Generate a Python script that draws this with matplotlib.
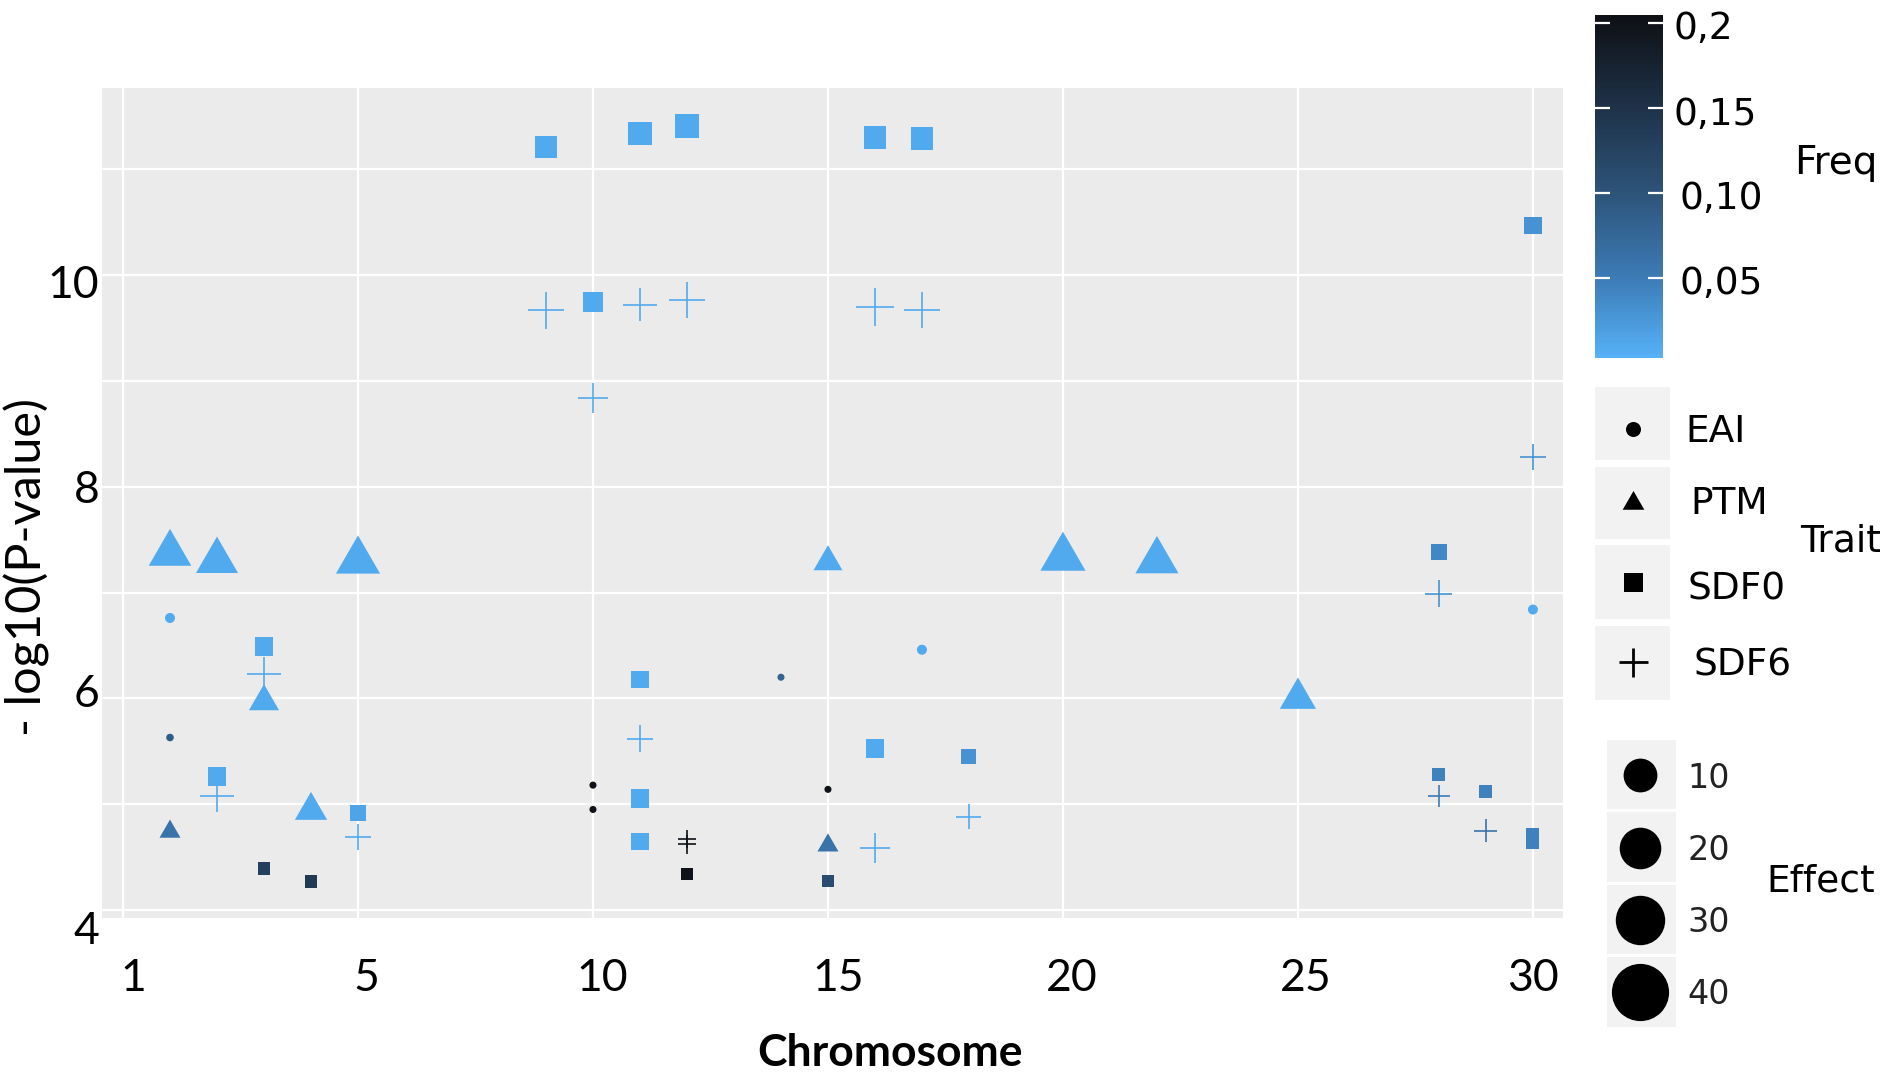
import numpy as np
import matplotlib
matplotlib.use("Agg")
import matplotlib.pyplot as plt
from matplotlib.colors import LinearSegmentedColormap, Normalize
from matplotlib.patches import Rectangle
from matplotlib.transforms import ScaledTranslation
import matplotlib.cm as cm

# ---------------- data ----------------
eai_chr = [1, 1, 10, 10, 14, 15, 17, 30]
eai_logp = [6.76, 5.63, 5.18, 4.95, 6.20, 5.14, 6.46, 6.84]
eai_effect = [4, 2.3, 2, 2, 2, 2, 4, 4]
eai_freq = [0.01, 0.09, 0.2, 0.2, 0.08, 0.2, 0.01, 0.01]

ptm_chr = [1, 2, 5, 3, 4, 1, 15, 15, 20, 22, 25]
ptm_logp = [7.37, 7.30, 7.30, 5.97, 4.94, 4.74, 7.29, 4.61, 7.33, 7.30, 6.00]
ptm_effect = [40, 39, 43, 20, 23, 9.7, 18.5, 9.7, 45, 41, 29]
ptm_freq = [0.01, 0.01, 0.01, 0.01, 0.01, 0.06, 0.01, 0.06, 0.01, 0.01, 0.01]

sdf0_chr = [9, 11, 12, 16, 17, 10, 30, 3, 2, 5, 3, 4, 11, 11, 11, 12, 15, 16, 18, 28, 28, 29, 30, 30]
sdf0_logp = [11.21, 11.34, 11.41, 11.30, 11.29, 9.75, 10.47, 6.49, 5.26, 4.92, 4.39, 4.27,
             6.18, 5.05, 4.65, 4.34, 4.27, 5.53, 5.45, 7.38, 5.28, 5.12, 4.71, 4.64]
sdf0_effect = [25, 29, 30, 26, 26, 20, 15, 18, 18, 13, 8, 8.5,
               15, 18, 15, 8.5, 7.5, 18, 11.5, 13, 8.5, 8.5, 8.5, 8.5]
sdf0_freq = [0.01, 0.01, 0.01, 0.01, 0.01, 0.01, 0.03, 0.01, 0.01, 0.015, 0.13, 0.14,
             0.01, 0.01, 0.01, 0.2, 0.11, 0.01, 0.03, 0.04, 0.045, 0.045, 0.045, 0.045]

sdf6_chr = [9, 10, 11, 12, 16, 17, 30, 28, 3, 2, 5, 11, 12, 12, 16, 18, 28, 29]
sdf6_logp = [9.67, 8.84, 9.72, 9.77, 9.70, 9.67, 8.28, 6.99, 6.23, 5.08, 4.69, 5.62,
             4.67, 4.62, 4.59, 4.88, 5.08, 4.75]
sdf6_effect = [27, 17, 22, 26, 29, 26, 13.5, 14.5, 22, 22, 13.5, 14.5, 7, 7, 18, 12.5, 10, 10.5]
sdf6_freq = [0.01, 0.01, 0.01, 0.01, 0.01, 0.01, 0.03, 0.03, 0.01, 0.01, 0.01, 0.01,
             0.2, 0.2, 0.01, 0.01, 0.05, 0.06]

x_ticks = [0, 5, 10, 15, 20, 25, 30]
x_ticklabels = ["1", "5", "10", "15", "20", "25", "30"]
y_ticks = [4, 6, 8, 10]
y_ticklabels = ["4", "6", "8", "10"]
freq_ticks = [0.2, 0.15, 0.10, 0.05]
freq_ticklabels = ["0,2", "0,15", "0,10", "0,05"]
trait_names = ["EAI", "PTM", "SDF0", "SDF6"]
effect_levels = [10, 20, 30, 40]

# ---------------- figure ----------------
W, H = 1893, 1073
DPI = 100
PX = 72.0 / DPI
fig = plt.figure(figsize=(W / DPI, H / DPI), dpi=DPI)
fig.patch.set_facecolor("white")

AX_FONT = "Lato"
LEG_FONT = "DejaVu Sans"

fmin, fmax = 0.003, 0.205
norm = Normalize(fmin, fmax)
cmap = LinearSegmentedColormap.from_list(
    "freq", [(0.0, "#56B1F7"), (0.233, "#3C7BB6"), (0.48, "#2D5479"),
             (0.728, "#1E3249"), (1.0, "#0E1014")])

TRI = [(0, 1), (-0.866, -0.5), (0.866, -0.5), (0, 1)]
shape_factor = {"o": 1.0, "s": 0.886, "tri": 1.555, "+": 1.414}


def sizes(effect, shape):
    d = 5.0 * np.sqrt(np.asarray(effect, float))  # circle-equivalent diameter in px
    return (d * shape_factor[shape] * PX) ** 2


ax = fig.add_axes([102 / W, 1 - 918 / H, (1563 - 102) / W, (918 - 88) / H])
ax.set_facecolor("#EBEBEB")
ax.set_xlim(-0.447, 30.64)
ax.set_ylim(3.924, 11.77)
for s in ax.spines.values():
    s.set_visible(False)

ax.set_xticks(x_ticks)
ax.set_xticklabels(x_ticklabels, fontsize=32, family=AX_FONT)
ax.set_xticks([0, 10, 20, 30], minor=True)
ax.set_yticks(y_ticks)
ax.set_yticklabels(y_ticklabels, fontsize=32, family=AX_FONT)
ax.set_yticks([5, 7, 9, 11], minor=True)
ax.tick_params(axis="x", which="major", length=0, pad=29)
ax.tick_params(axis="x", which="minor", length=6, width=1.3, color="#333333")
ax.tick_params(axis="y", which="both", length=0, pad=2)
x_shift = [10, 8, 9, 10, 9, 8, 0]
for lab, dx in zip(ax.get_xticklabels(), x_shift):
    lab.set_transform(lab.get_transform() + ScaledTranslation(dx / DPI, 0, fig.dpi_scale_trans))
y_shift = [-18, 8, 0, -6]
for lab, dy in zip(ax.get_yticklabels(), y_shift):
    lab.set_transform(lab.get_transform() + ScaledTranslation(0, dy / DPI, fig.dpi_scale_trans))

ax.xaxis.grid(True, which="major", color="white", lw=1.6)
ax.yaxis.grid(True, which="both", color="white", lw=1.6)
ax.set_axisbelow(True)

ax.set_xlabel("Chromosome", fontsize=32, family=AX_FONT, fontweight="bold")
ax.xaxis.set_label_coords((890 - 102) / 1461, (918 - 1053) / 830)
ax.xaxis.label.set_va("center")
ax.set_ylabel("- log10(P-value)", fontsize=35, family=AX_FONT)
ax.yaxis.set_label_coords((27 - 102) / 1461, (918 - 567) / 830)
ax.yaxis.label.set_va("center")

ax.scatter(ptm_chr, ptm_logp, s=sizes(ptm_effect, "tri"), c=ptm_freq, cmap=cmap, norm=norm,
           marker=TRI, linewidths=0, zorder=3)
ax.scatter(sdf0_chr, sdf0_logp, s=sizes(sdf0_effect, "s"), c=sdf0_freq, cmap=cmap, norm=norm,
           marker="s", linewidths=0, zorder=3)
ax.scatter(eai_chr, eai_logp, s=sizes(eai_effect, "o"), c=eai_freq, cmap=cmap, norm=norm,
           marker="o", linewidths=0, zorder=4)
ax.scatter(sdf6_chr, sdf6_logp, s=sizes(sdf6_effect, "+"), c=sdf6_freq, cmap=cmap, norm=norm,
           marker="+", linewidths=1.2, zorder=4)

# ---------------- colorbar ----------------
cax = fig.add_axes([1595 / W, 1 - 358 / H, 68 / W, 343 / H])
cb = fig.colorbar(cm.ScalarMappable(norm=norm, cmap=cmap), cax=cax)
cb.outline.set_visible(False)
cb.set_ticks(freq_ticks)
cax.tick_params(direction="in", colors="white", length=11, width=1.6,
                left=True, right=True, labelleft=False, labelright=False)

# ---------------- legends (pixel coordinates) ----------------
lax = fig.add_axes([0, 0, 1, 1])
lax.set_xlim(0, W)
lax.set_ylim(H, 0)
lax.axis("off")
lax.patch.set_alpha(0)

label_pos = {0.2: (1674, 29), 0.15: (1673, 115), 0.10: (1679, 199), 0.05: (1679, 284)}
for t, lab in zip(freq_ticks, freq_ticklabels):
    xx, yy = label_pos[t]
    lax.text(xx, yy, lab, fontsize=27, family=LEG_FONT, va="center", ha="left")
lax.text(1794, 163, "Freq", fontsize=28, family=LEG_FONT, va="center", ha="left")

# Trait legend
key_y = [(387, 460), (467, 539), (545, 619), (626, 700)]
lab_xy = [(1685, 432), (1690, 504), (1688, 590), (1694, 666)]
for (y0, y1) in key_y:
    lax.add_patch(Rectangle((1595, y0), 75, y1 - y0, facecolor="#F2F2F2", edgecolor="none"))
kx = 1633
lax.scatter([kx], [429], s=(15 * PX) ** 2, marker="o", c="black", linewidths=0)
lax.scatter([kx], [503], s=(25 * PX) ** 2, marker=TRI, c="black", linewidths=0)
lax.scatter([kx], [582], s=(19 * PX) ** 2, marker="s", c="black", linewidths=0)
lax.scatter([kx], [662], s=(29 * PX) ** 2, marker="+", c="black", linewidths=2)
for name, (xx, yy) in zip(trait_names, lab_xy):
    lax.text(xx, yy, name, fontsize=27, family=LEG_FONT, va="center", ha="left")
lax.text(1800, 541, "Trait", fontsize=27, family=LEG_FONT, va="center", ha="left")

# Effect legend
eff_box = [(740, 809), (812, 882), (885, 954), (957, 1027)]
eff_cy = [775, 848, 920, 992]
for (y0, y1) in eff_box:
    lax.add_patch(Rectangle((1607, y0), 69, y1 - y0, facecolor="#F2F2F2", edgecolor="none"))
for v, cy in zip(effect_levels, eff_cy):
    d = 26 + 0.78 * v
    lax.scatter([1640], [cy], s=(d * PX) ** 2, marker="o", c="black", linewidths=0)
    lax.text(1687, cy + 3, str(v), fontsize=24, family=LEG_FONT, va="center", ha="left",
             color="#222222")
lax.text(1766, 881, "Effect", fontsize=27, family=LEG_FONT, va="center", ha="left")

fig.savefig("out.png", dpi=DPI)
